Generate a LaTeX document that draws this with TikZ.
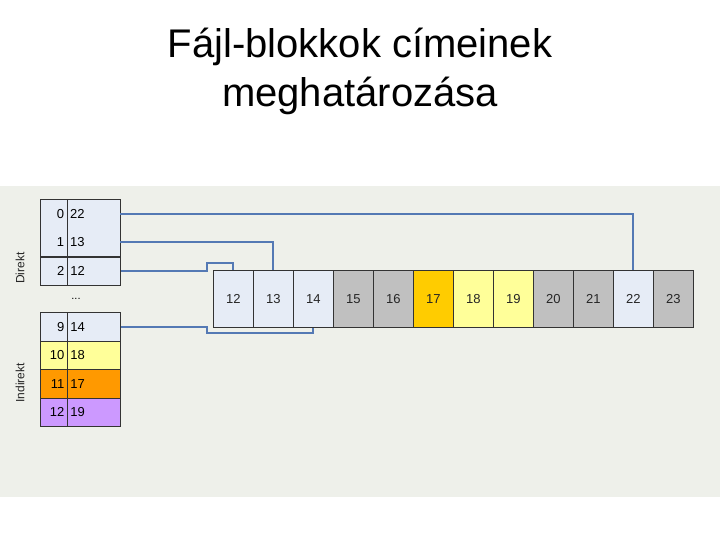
\documentclass[tikz,border=0pt]{standalone}
\usepackage{fontspec}
\setmainfont{Liberation Sans}
\definecolor{panel}{HTML}{EEF0EA}
\definecolor{lblue}{HTML}{E6ECF6}
\definecolor{lyel}{HTML}{FFFF99}
\definecolor{orng}{HTML}{FF9900}
\definecolor{purp}{HTML}{CC99FF}
\definecolor{gblk}{HTML}{C0C0C0}
\definecolor{gold}{HTML}{FFCC00}
\definecolor{conn}{HTML}{5479B4}
\begin{document}
\begin{tikzpicture}[x=1pt,y=-1pt,
  idx/.style={anchor=north west, minimum height=28.5pt, text width=21pt, align=right, inner xsep=3pt, inner ysep=0pt, font=\fontsize{13}{15}\selectfont},
  val/.style={anchor=north west, minimum height=28.5pt, text width=47pt, align=left, inner xsep=3pt, inner ysep=0pt, font=\fontsize{13}{15}\selectfont},
  bord/.style={draw=black!80, line width=0.8pt},
  blk/.style={anchor=north west, draw=black!80, line width=0.8pt, minimum width=40pt, minimum height=57pt, inner sep=0pt, font=\fontsize{13}{15}\selectfont, text=black!85},
  link/.style={draw=conn, line width=2pt},
  side/.style={rotate=90, font=\fontsize{12}{14}\selectfont, text=black!85}]
\useasboundingbox (0,0) rectangle (720,540);
\fill[white] (0,0) rectangle (720,540);
\fill[panel] (0,186) rectangle (720,497);
% title
\node[anchor=base, font=\fontsize{40}{48}\selectfont] (t1) at (360,58) {Fájl-blokkok címeinek};
\node[anchor=base, font=\fontsize{40}{48}\selectfont] (t2) at (360,107) {meghatározása};
% direct table
\node[idx, fill=lblue] (i0) at (40,199.5) {0};
\node[val, fill=lblue] (v0) at (67,199.5) {22};
\node[idx, fill=lblue] (i1) at (40,228) {1};
\node[val, fill=lblue] (v1) at (67,228) {13};
\draw[bord] (40,199.5) rectangle (120,256.5);
\draw[bord] (67,199.5) -- (67,256.5);
\node[idx, fill=lblue, bord] (i2) at (40,256.5) {2};
\node[val, fill=lblue, bord] (v2) at (67,256.5) {12};
\node[font=\fontsize{11}{13}\selectfont] (dots) at (76,299) {...};
% indirect table
\node[idx, fill=lblue, bord] (i9) at (40,312) {9};
\node[val, fill=lblue, bord] (v9) at (67,312) {14};
\node[idx, fill=lyel, bord] (i10) at (40,340.5) {10};
\node[val, fill=lyel, bord] (v10) at (67,340.5) {18};
\node[idx, fill=orng, bord] (i11) at (40,369) {11};
\node[val, fill=orng, bord] (v11) at (67,369) {17};
\node[idx, fill=purp, bord] (i12) at (40,397.5) {12};
\node[val, fill=purp, bord] (v12) at (67,397.5) {19};
\node[side] (dir) at (20,268) {Direkt};
\node[side] (ind) at (20,383) {Indirekt};
% blocks
\node[blk, fill=lblue] (b12) at (213,270) {12};
\node[blk, fill=lblue] (b13) at (253,270) {13};
\node[blk, fill=lblue] (b14) at (293,270) {14};
\node[blk, fill=gblk] (b15) at (333,270) {15};
\node[blk, fill=gblk] (b16) at (373,270) {16};
\node[blk, fill=gold] (b17) at (413,270) {17};
\node[blk, fill=lyel] (b18) at (453,270) {18};
\node[blk, fill=lyel] (b19) at (493,270) {19};
\node[blk, fill=gblk] (b20) at (533,270) {20};
\node[blk, fill=gblk] (b21) at (573,270) {21};
\node[blk, fill=lblue] (b22) at (613,270) {22};
\node[blk, fill=gblk] (b23) at (653,270) {23};
% connectors
\coordinate (k1) at (207,262.5);
\coordinate (k2) at (207,333);
\draw[link] (v0.east) -| (b22.north);
\draw[link] (v1.east) -| (b13.north);
\draw[link] (v2.east) -| (k1) -| (b12.north);
\draw[link] (v9.east) -| (k2) -| (b14.south);
\end{tikzpicture}
\end{document}
